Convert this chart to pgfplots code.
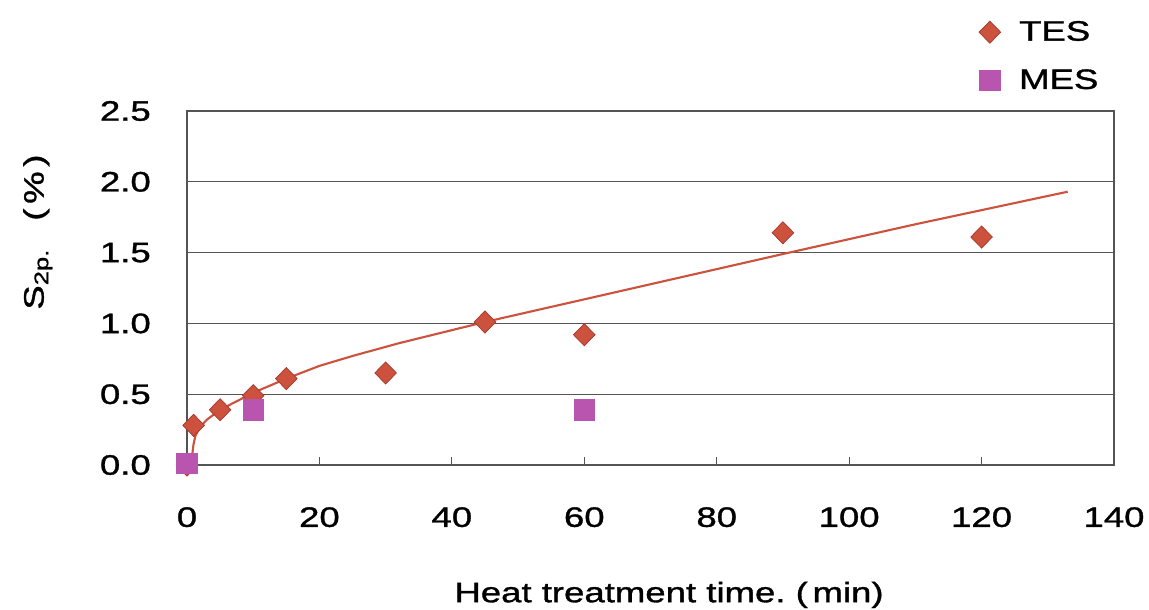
\documentclass[border=0pt]{standalone}
\usepackage{fontspec}
\setmainfont{Liberation Sans}[FakeStretch=1.3, FakeBold=1.2]
\usepackage{pgfplots}
\pgfplotsset{compat=1.18}
\definecolor{tescol}{RGB}{205,82,62}
\definecolor{tesedge}{RGB}{165,55,45}
\definecolor{mescol}{RGB}{185,85,175}
\definecolor{gridcol}{RGB}{85,85,85}

\begin{document}
\begin{tikzpicture}
\useasboundingbox (-3.74,-2.88) rectangle (19.24,9.30);
\begin{axis}[
  at={(0,0)}, anchor=south west,
  scale only axis, width=18.54cm, height=7.08cm,
  xmin=0, xmax=140, ymin=0, ymax=2.5,
  xtick={0,20,...,140}, ytick={0,0.5,...,2.5},
  yticklabel style={/pgf/number format/.cd, fixed, fixed zerofill, precision=1},
  /pgf/number format/assume math mode=true,
  tick label style={font=\fontsize{16}{19}\selectfont},
  xticklabel shift=0.72cm, yticklabel shift=0.6cm,
  tick align=inside, major tick length=0.17cm,
  xtick pos=left,
  ytick style={draw=none},
  xtick style={gridcol, line width=0.6pt},
  ymajorgrids, grid style={gridcol, line width=0.7pt},
  axis line style={gridcol, line width=0.8pt},
  clip=false,
  xlabel={Heat treatment time.\ (\,min)},
  xlabel style={at={(axis description cs:0.52,-0.367)}, anchor=center, font=\fontsize{16}{19}\selectfont},
  ylabel={S\textsubscript{2p.}\enspace\enspace(\,\%\,)},
  ylabel style={at={(axis description cs:-0.161,0.658)}, anchor=center, rotate=0, font=\fontsize{16}{19}\selectfont},
  legend style={at={(axis description cs:0.993,1.275)}, anchor=north east, draw=none, fill=none,
    font=\fontsize{16}{19}\selectfont, row sep=0.38cm,
    /tikz/every odd column/.append style={column sep=0.3cm}},
  legend cell align=left,
]
% trend line
\addplot[tescol, line width=1.2pt, forget plot] coordinates {
  (0.7,0.04) (1.0,0.15) (1.3,0.21) (2,0.27) (3,0.32) (5,0.39) (7.5,0.45)
  (10,0.51) (15,0.61) (20,0.70) (25,0.77) (32,0.86) (45,1.01) (60,1.17)
  (75,1.33) (90,1.49) (110,1.70) (133,1.93)
};
\addplot[only marks, mark=diamond*, mark size=6.3pt, mark options={xscale=1.3, fill=tescol, draw=tesedge, line width=0.4pt}]
  coordinates {(0,0) (1,0.28) (5,0.39) (10,0.49) (15,0.61) (30,0.65) (45,1.01) (60,0.92) (90,1.64) (120,1.61)};
\addplot[only marks, mark=square*, mark size=5.8pt, mark options={fill=mescol, draw=mescol}]
  coordinates {(0,0.01) (10,0.39) (60,0.39)};
\legend{TES, MES}
\end{axis}
\end{tikzpicture}
\end{document}
